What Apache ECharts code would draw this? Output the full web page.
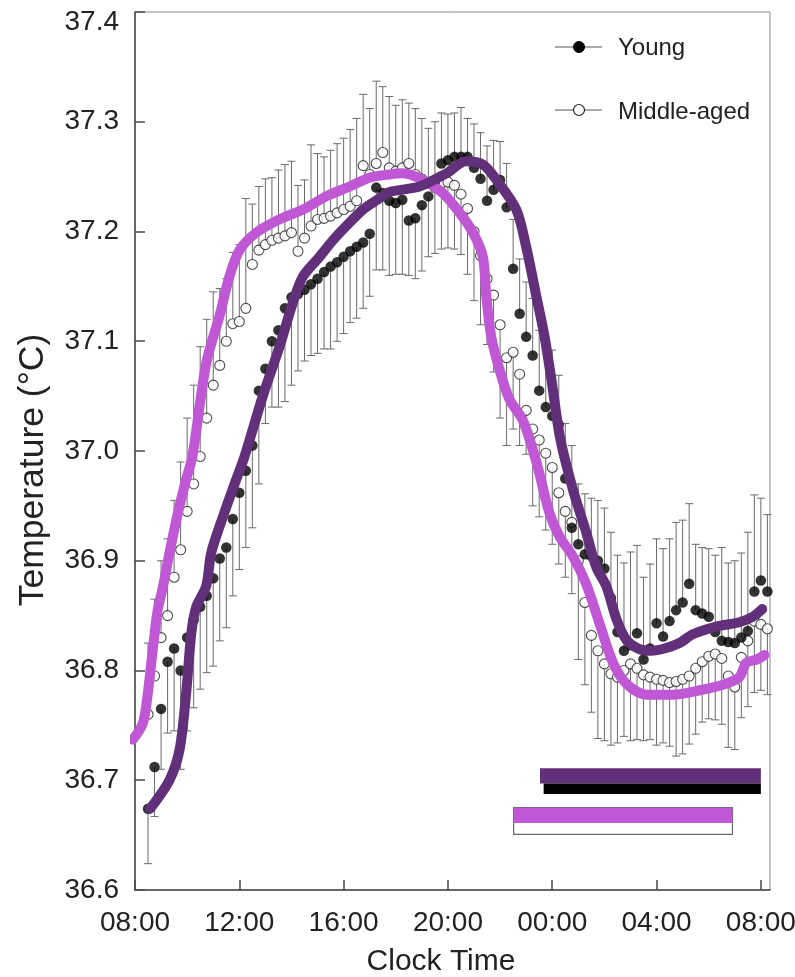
<!DOCTYPE html>
<html>
<head>
<meta charset="utf-8">
<title>Core body temperature — Young vs Middle-aged</title>
<script src="https://cdn.jsdelivr.net/npm/echarts@6/dist/echarts.min.js"></script>
<style>
  html, body { margin: 0; padding: 0; background: #ffffff; }
  #chart { width: 795px; height: 977px; }
</style>
</head>
<body>
<div id="chart"></div>
<script>
// ---- Sampling clock times (day 1 08:30 through day 2 08:15, every 15 min) ----
const sampleTimes = [
  '08:30','08:45','09:00','09:15','09:30','09:45','10:00','10:15','10:30','10:45','11:00','11:15',
  '11:30','11:45','12:00','12:15','12:30','12:45','13:00','13:15','13:30','13:45','14:00','14:15',
  '14:30','14:45','15:00','15:15','15:30','15:45','16:00','16:15','16:30','16:45','17:00','17:15',
  '17:30','17:45','18:00','18:15','18:30','18:45','19:00','19:15','19:30','19:45','20:00','20:15',
  '20:30','20:45','21:00','21:15','21:30','21:45','22:00','22:15','22:30','22:45','23:00','23:15',
  '23:30','23:45','00:00','00:15','00:30','00:45','01:00','01:15','01:30','01:45','02:00','02:15',
  '02:30','02:45','03:00','03:15','03:30','03:45','04:00','04:15','04:30','04:45','05:00','05:15',
  '05:30','05:45','06:00','06:15','06:30','06:45','07:00','07:15','07:30','07:45','08:00','08:15'
];

// ---- Mean temperature (°C), young group ----
const youngTemp = [
  36.674, 36.712, 36.765, 36.808, 36.820, 36.800, 36.830, 36.846, 36.858, 36.868, 36.884, 36.902,
  36.912, 36.938, 36.962, 36.982, 37.005, 37.055, 37.075, 37.100, 37.110, 37.130, 37.140, 37.143,
  37.147, 37.152, 37.157, 37.163, 37.168, 37.172, 37.177, 37.182, 37.186, 37.190, 37.198, 37.240,
  37.235, 37.228, 37.226, 37.229, 37.210, 37.212, 37.224, 37.232, 37.245, 37.262, 37.265, 37.268,
  37.268, 37.268, 37.258, 37.248, 37.228, 37.238, 37.247, 37.222, 37.166, 37.125, 37.104, 37.087,
  37.055, 37.040, 37.032, 37.024, 36.975, 36.930, 36.915, 36.906, 36.904, 36.900, 36.893, 36.866,
  36.835, 36.818, 36.823, 36.834, 36.810, 36.820, 36.843, 36.831, 36.845, 36.855, 36.862, 36.879,
  36.855, 36.852, 36.849, 36.835, 36.827, 36.826, 36.825, 36.830, 36.836, 36.872, 36.882, 36.872
];

// ---- Mean temperature (°C), middle-aged group ----
const middleTemp = [
  36.760, 36.795, 36.830, 36.850, 36.885, 36.910, 36.945, 36.970, 36.995, 37.030, 37.060, 37.078,
  37.100, 37.116, 37.118, 37.130, 37.170, 37.183, 37.188, 37.192, 37.194, 37.196, 37.199, 37.182,
  37.194, 37.205, 37.211, 37.212, 37.214, 37.217, 37.220, 37.223, 37.228, 37.260, 37.252, 37.262,
  37.272, 37.258, 37.255, 37.258, 37.262, 37.252, 37.248, 37.244, 37.240, 37.244, 37.245, 37.242,
  37.234, 37.221, 37.200, 37.178, 37.157, 37.142, 37.115, 37.085, 37.090, 37.070, 37.037, 37.020,
  37.010, 36.998, 36.985, 36.962, 36.945, 36.935, 36.900, 36.862, 36.832, 36.818, 36.806, 36.797,
  36.794, 36.800, 36.806, 36.802, 36.796, 36.794, 36.792, 36.791, 36.789, 36.790, 36.792, 36.795,
  36.802, 36.808, 36.813, 36.815, 36.811, 36.795, 36.785, 36.812, 36.827, 36.845, 36.842, 36.838
];

// ---- Standard errors (°C) ----
const youngSem = [
  0.050, 0.045, 0.055, 0.065, 0.075, 0.090, 0.085, 0.080, 0.075, 0.070, 0.080, 0.075,
  0.073, 0.070, 0.070, 0.070, 0.075, 0.085, 0.050, 0.060, 0.070, 0.085, 0.080, 0.070,
  0.065, 0.065, 0.068, 0.070, 0.075, 0.072, 0.070, 0.065, 0.065, 0.060, 0.057, 0.075,
  0.070, 0.068, 0.065, 0.068, 0.050, 0.055, 0.060, 0.055, 0.055, 0.046, 0.042, 0.040,
  0.045, 0.035, 0.040, 0.042, 0.050, 0.045, 0.035, 0.040, 0.045, 0.050, 0.050, 0.052,
  0.055, 0.058, 0.060, 0.045, 0.050, 0.060, 0.055, 0.055, 0.053, 0.055, 0.055, 0.060,
  0.070, 0.080, 0.085, 0.080, 0.075, 0.077, 0.077, 0.080, 0.075, 0.080, 0.075, 0.073,
  0.060, 0.060, 0.062, 0.070, 0.085, 0.072, 0.075, 0.077, 0.090, 0.088, 0.075, 0.070
];
const middleSem = [
  0.065, 0.070, 0.070, 0.070, 0.070, 0.080, 0.085, 0.090, 0.100, 0.090, 0.085, 0.070,
  0.057, 0.065, 0.070, 0.100, 0.055, 0.058, 0.060, 0.057, 0.062, 0.065, 0.065, 0.060,
  0.053, 0.074, 0.060, 0.056, 0.060, 0.063, 0.065, 0.070, 0.075, 0.065, 0.060, 0.075,
  0.060, 0.065, 0.060, 0.062, 0.055, 0.060, 0.055, 0.050, 0.060, 0.060, 0.060, 0.058,
  0.055, 0.060, 0.063, 0.063, 0.060, 0.070, 0.085, 0.080, 0.070, 0.065, 0.040, 0.070,
  0.070, 0.070, 0.070, 0.065, 0.060, 0.070, 0.090, 0.075, 0.070, 0.080, 0.070, 0.065,
  0.060, 0.060, 0.070, 0.065, 0.060, 0.057, 0.060, 0.057, 0.058, 0.068, 0.068, 0.062,
  0.060, 0.055, 0.057, 0.060, 0.060, 0.065, 0.057, 0.055, 0.060, 0.065, 0.060, 0.060
];

// ---- Smoothed rhythm traces (clock hour, °C) ----
const youngTraceHours = [
  8.58, 9.32, 9.71, 9.96, 10.16, 10.35, 10.73, 10.92, 11.37, 11.88, 12.2, 12.9, 13.54, 14.05,
  14.44, 15.08, 15.59, 16.1, 16.74, 17.3, 17.76, 18.91, 19.94, 20.7, 21.34, 21.86, 22.62, 23.0,
  23.39, 23.7, 24.0, 24.3, 24.79, 25.3, 25.69, 26.07, 26.46, 26.84, 27.3, 27.8, 28.3, 28.88,
  29.39, 30.29, 31.18, 31.69, 32.05
];
const youngTraceTemp = [
  36.674, 36.700, 36.728, 36.779, 36.834, 36.858, 36.877, 36.907, 36.940, 36.974, 36.995, 37.050,
  37.095, 37.135, 37.159, 37.177, 37.192, 37.205, 37.220, 37.229, 37.236, 37.241, 37.253, 37.264,
  37.261, 37.247, 37.220, 37.186, 37.141, 37.105, 37.060, 37.012, 36.965, 36.926, 36.894, 36.877,
  36.847, 36.828, 36.820, 36.818, 36.820, 36.825, 36.833, 36.840, 36.844, 36.849, 36.856
];
const middleTraceHours = [
  7.92, 8.3, 8.49, 8.68, 8.87, 9.07, 9.32, 9.64, 9.96, 10.2, 10.73, 11.24, 11.62, 12.01, 12.65,
  13.54, 14.44, 15.33, 16.23, 16.99, 17.76, 18.27, 19.04, 19.8, 20.45, 20.96, 21.34, 21.47, 21.66,
  21.98, 22.36, 22.87, 23.39, 23.9, 24.28, 24.79, 25.3, 25.81, 26.33, 26.84, 27.61, 28.63, 29.65,
  30.67, 31.18, 31.44, 31.83, 32.14
];
const middleTraceTemp = [
  36.737, 36.752, 36.779, 36.819, 36.855, 36.876, 36.907, 36.943, 36.974, 36.995, 37.080, 37.123,
  37.159, 37.183, 37.199, 37.211, 37.220, 37.232, 37.241, 37.249, 37.252, 37.253, 37.247, 37.235,
  37.217, 37.199, 37.177, 37.141, 37.104, 37.074, 37.047, 37.028, 36.990, 36.943, 36.922, 36.904,
  36.879, 36.843, 36.807, 36.788, 36.778, 36.778, 36.782, 36.788, 36.794, 36.807, 36.810, 36.814
];

// ---- Sleep-period bars: clock hour span and °C band ----
const sleepBarNames = ['youngOverlay', 'young', 'middleFrame', 'middleOverlay'];
const sleepBarStart = [23.53, 23.67, 22.52, 22.52];
const sleepBarEnd = [32.0, 32.0, 30.91, 30.91];
const sleepBarLow = [36.697, 36.6875, 36.6506, 36.661];
const sleepBarHigh = [36.711, 36.697, 36.675, 36.675];

// ---- Axis ticks ----
const tempTicks = [36.6, 36.7, 36.8, 36.9, 37.0, 37.1, 37.2, 37.3, 37.4];
const hourTickStep = 4;

// ---------------------------------------------------------------
const FONT = "'Liberation Sans', Arial, Helvetica, sans-serif";
const TEXT = '#222222';
const DARK_PURPLE = '#62307a';
const LIGHT_PURPLE = '#c058d6';
const BAR_GREY = '#6a6a6a';

// Clock strings -> continuous hours; times after midnight continue past 24
function toHours(times) {
  let dayOffset = 0, prev = -1;
  return times.map(t => {
    const [h, m] = t.split(':').map(Number);
    let v = h + m / 60;
    if (v + dayOffset < prev) dayOffset += 24;
    v += dayOffset;
    prev = v;
    return v;
  });
}
const hoursAxis = toHours(sampleTimes);

// Error bars point away from the other group's curve
function errorBarData(own, other, sem) {
  return hoursAxis.map((h, i) => {
    const up = own[i] >= other[i];
    return [h, own[i], up ? own[i] + sem[i] : own[i] - sem[i]];
  });
}

function renderErrorBar(params, api) {
  const p0 = api.coord([api.value(0), api.value(1)]);
  const p1 = api.coord([api.value(0), api.value(2)]);
  const cap = 4;
  const style = { stroke: BAR_GREY, lineWidth: 1 };
  return {
    type: 'group',
    children: [
      { type: 'line', shape: { x1: p0[0], y1: p0[1], x2: p1[0], y2: p1[1] }, style },
      { type: 'line', shape: { x1: p1[0] - cap, y1: p1[1], x2: p1[0] + cap, y2: p1[1] }, style }
    ]
  };
}

const sleepBarStyles = {
  youngOverlay: { fill: DARK_PURPLE, stroke: null },
  young: { fill: '#000000', stroke: null },
  middleFrame: { fill: '#ffffff', stroke: '#6a6a6a', lineWidth: 1.2 },
  middleOverlay: { fill: LIGHT_PURPLE, stroke: null }
};
function renderSleepBar(params, api) {
  const tl = api.coord([api.value(0), api.value(3)]);
  const br = api.coord([api.value(1), api.value(2)]);
  const st = sleepBarStyles[sleepBarNames[params.dataIndex]];
  return {
    type: 'rect',
    shape: { x: tl[0], y: tl[1], width: br[0] - tl[0], height: br[1] - tl[1] },
    style: { fill: st.fill, stroke: st.stroke, lineWidth: st.lineWidth || 0 }
  };
}

const tempMax = tempTicks[tempTicks.length - 1];

const chart = echarts.init(document.getElementById('chart'), null, { renderer: 'canvas' });

chart.setOption({
  backgroundColor: '#ffffff',
  animation: false,
  grid: {
    left: 135, right: 25, top: 12, bottom: 87,
    outerBoundsMode: 'none',
    show: true, borderColor: '#8a8a8a', borderWidth: 1, backgroundColor: 'transparent'
  },
  xAxis: {
    type: 'value',
    min: 8, max: 32.35, interval: hourTickStep,
    axisLine: { lineStyle: { color: '#4a4a4a', width: 1.5 } },
    axisTick: { inside: true, length: 10, lineStyle: { color: '#4a4a4a', width: 1.5 } },
    splitLine: { show: false },
    axisLabel: {
      margin: 19, color: TEXT, fontFamily: FONT, fontSize: 28,
      showMaxLabel: false,
      formatter: v => {
        const k = v / hourTickStep;
        if (Math.abs(k - Math.round(k)) > 1e-6) return '';
        const hh = ((Math.round(v) % 24) + 24) % 24;
        return String(hh).padStart(2, '0') + ':00';
      }
    }
  },
  yAxis: {
    type: 'value',
    min: tempTicks[0], max: tempMax, interval: 0.1,
    axisLine: { lineStyle: { color: '#4a4a4a', width: 1.5 } },
    axisTick: { inside: true, length: 10, lineStyle: { color: '#4a4a4a', width: 1.5 } },
    splitLine: { show: false },
    axisLabel: {
      margin: 16, color: TEXT, fontFamily: FONT, fontSize: 28,
      formatter: v => Math.abs(v - tempMax) < 1e-6 ? '{top|' + v.toFixed(1) + '}' : v.toFixed(1),
      rich: {
        top: { fontFamily: FONT, fontSize: 28, color: TEXT, padding: [20, 0, 0, 0] }
      }
    }
  },
  graphic: [
    {
      type: 'text', x: 33, y: 470, rotation: Math.PI / 2,
      style: { text: 'Temperature (°C)', fill: TEXT, font: `35.5px ${FONT}`, align: 'center', verticalAlign: 'middle' }
    },
    {
      type: 'text', x: 441, y: 962,
      style: { text: 'Clock Time', fill: TEXT, font: `30px ${FONT}`, align: 'center', verticalAlign: 'middle' }
    },
    // legend entries
    { type: 'line', shape: { x1: 555, y1: 47, x2: 602, y2: 47 }, style: { stroke: '#555', lineWidth: 1 } },
    { type: 'circle', shape: { cx: 579, cy: 47, r: 5.5 }, style: { fill: '#000', stroke: '#000', lineWidth: 1 } },
    { type: 'text', x: 618, y: 48, style: { text: 'Young', fill: TEXT, font: `24px ${FONT}`, align: 'left', verticalAlign: 'middle' } },
    { type: 'line', shape: { x1: 555, y1: 110, x2: 602, y2: 110 }, style: { stroke: '#555', lineWidth: 1 } },
    { type: 'circle', shape: { cx: 579, cy: 110, r: 5.5 }, style: { fill: '#fff', stroke: '#222', lineWidth: 1.2 } },
    { type: 'text', x: 618, y: 112, style: { text: 'Middle-aged', fill: TEXT, font: `24px ${FONT}`, align: 'left', verticalAlign: 'middle' } }
  ],
  series: [
    {
      name: 'Young SEM', type: 'custom', renderItem: renderErrorBar,
      data: errorBarData(youngTemp, middleTemp, youngSem), z: 1, silent: true
    },
    {
      name: 'Middle-aged SEM', type: 'custom', renderItem: renderErrorBar,
      data: errorBarData(middleTemp, youngTemp, middleSem), z: 1, silent: true
    },
    {
      name: 'Middle-aged', type: 'scatter', symbol: 'circle', symbolSize: 10,
      data: hoursAxis.map((h, i) => [h, middleTemp[i]]),
      itemStyle: { color: '#ffffff', borderColor: '#222222', borderWidth: 1.1 }, z: 2
    },
    {
      name: 'Young', type: 'scatter', symbol: 'circle', symbolSize: 10.5,
      data: hoursAxis.map((h, i) => [h, youngTemp[i]]),
      itemStyle: { color: '#000000' }, z: 3
    },
    {
      name: 'Middle-aged trace', type: 'line', showSymbol: false, smooth: 0.3,
      data: middleTraceHours.map((h, i) => [h, middleTraceTemp[i]]),
      lineStyle: { color: LIGHT_PURPLE, width: 10, cap: 'round', join: 'round' }, z: 4
    },
    {
      name: 'Young trace', type: 'line', showSymbol: false, smooth: 0.3,
      data: youngTraceHours.map((h, i) => [h, youngTraceTemp[i]]),
      lineStyle: { color: DARK_PURPLE, width: 10, cap: 'round', join: 'round' }, z: 5
    },
    {
      name: 'Sleep periods', type: 'custom', renderItem: renderSleepBar, silent: true, z: 6,
      data: sleepBarStart.map((s, i) => [s, sleepBarEnd[i], sleepBarLow[i], sleepBarHigh[i]])
    }
  ]
});
</script>
</body>
</html>
